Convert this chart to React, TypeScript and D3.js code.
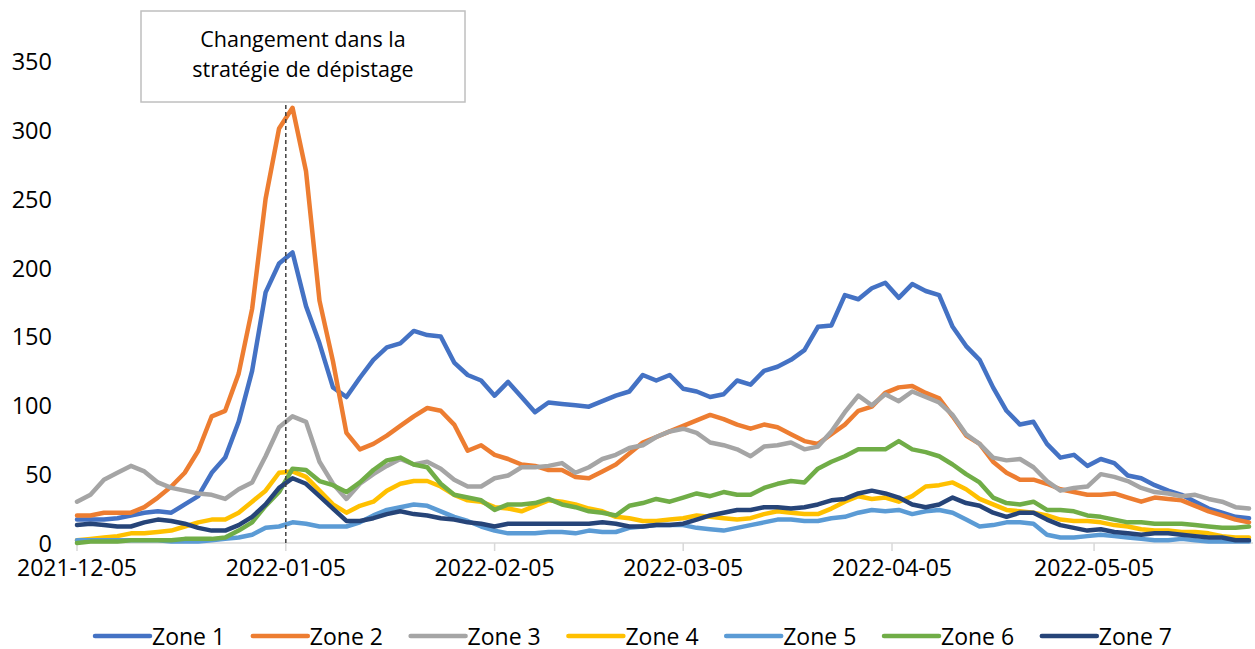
import React from "react";
import * as d3 from "d3";

const START = "2021-12-05";
const STEP_DAYS = 2;
const END = "2022-05-28";

const zone1 = [17,17,17,18,20,22,23,22,28,34,
51,62,88,125,182,203,211,172,145,113,
106,120,133,142,145,154,151,150,131,122,
118,107,117,106,95,102,101,100,99,103,
107,110,122,118,122,112,110,106,108,118,
115,125,128,133,140,157,158,180,177,185,
189,178,188,183,180,157,143,133,113,96,
86,88,72,62,64,56,61,58,49,47,
42,38,35,30,25,22,19,18];
const zone2 = [20,20,22,22,22,26,33,41,51,67,
92,96,123,170,250,301,316,270,176,132,
80,68,72,78,85,92,98,96,86,67,
71,64,61,57,56,53,53,48,47,52,
57,65,73,77,81,85,89,93,90,86,
83,86,84,79,74,72,79,86,96,99,
109,113,114,109,105,92,78,72,59,51,
46,46,43,39,37,35,35,36,33,30,
33,32,31,27,23,20,17,15];
const zone3 = [30,35,46,51,56,52,44,40,38,36,
35,32,39,44,63,84,92,88,59,43,
32,43,50,56,61,57,59,54,46,41,
41,47,49,55,55,56,58,51,55,61,
64,69,71,77,81,83,80,73,71,68,
63,70,71,73,68,70,81,95,107,100,
108,103,110,106,102,93,79,72,62,60,
61,55,45,38,40,41,50,48,45,40,
37,36,34,35,32,30,26,25];
const zone4 = [2,3,4,5,7,7,8,9,12,15,
17,17,22,30,38,51,52,48,38,28,
22,27,30,38,43,45,45,41,35,31,
30,26,25,23,27,31,30,28,25,23,
19,18,16,16,17,18,20,19,18,17,
18,21,23,22,21,21,25,30,34,32,
33,30,34,41,42,44,39,32,28,24,
23,22,20,17,16,16,15,13,12,10,
9,9,8,8,7,5,4,4];
const zone5 = [2,2,2,2,2,2,2,1,1,1,
2,3,4,6,11,12,15,14,12,12,
12,15,20,24,26,28,27,23,19,16,
12,9,7,7,7,8,8,7,9,8,
8,11,12,13,13,13,11,10,9,11,
13,15,17,17,16,16,18,19,22,24,
23,24,21,23,24,22,17,12,13,15,
15,14,6,4,4,5,6,5,4,3,
2,2,3,2,1,1,1,1];
const zone6 = [0,1,1,1,2,2,2,2,3,3,
3,4,9,15,27,37,54,53,45,42,
37,44,53,60,62,57,55,43,35,33,
31,24,28,28,29,32,28,26,23,22,
20,27,29,32,30,33,36,34,37,35,
35,40,43,45,44,54,59,63,68,68,
68,74,68,66,63,57,50,44,33,29,
28,30,24,24,23,20,19,17,15,15,
14,14,14,13,12,11,11,12];
const zone7 = [13,14,13,12,12,15,17,16,14,11,
9,9,13,19,28,40,47,43,34,25,
16,16,18,21,23,21,20,18,17,15,
14,12,14,14,14,14,14,14,14,15,
14,12,12,13,13,14,17,20,22,24,
24,26,26,25,26,28,31,32,36,38,
36,33,28,26,28,33,29,27,22,19,
22,22,17,13,11,9,10,8,7,6,
7,7,6,5,4,4,2,2];

const seriesNames = ["Zone 1","Zone 2","Zone 3","Zone 4","Zone 5","Zone 6","Zone 7"];
const seriesValues = [zone1, zone2, zone3, zone4, zone5, zone6, zone7];
const seriesColors = ["#4472C4","#ED7D31","#A5A5A5","#FFC000","#5B9BD5","#70AD47","#264478"];

const xTickLabels = ["2021-12-05","2022-01-05","2022-02-05","2022-03-05","2022-04-05","2022-05-05"];
const yTicks = [0,50,100,150,200,250,300,350];
const annotationDate = "2022-01-05";
const annotationLines = ["Changement dans la", "stratégie de dépistage"];

const W = 1255, H = 649;
const FONT = "'Open Sans', 'Noto Sans', sans-serif";

export default function App() {
  const parse = d3.utcParse("%Y-%m-%d");
  const start = parse(START)!;
  const end = parse(END)!;
  const x = d3.scaleUtc().domain([start, end]).range([77, 1249]);
  const y = d3.scaleLinear().domain([0, 350]).range([543, 61]);
  const dates = zone1.map((_, i) => d3.utcDay.offset(start, i * STEP_DAYS));
  const line = d3.line<number>()
    .x((_, i) => x(dates[i]))
    .y((v) => y(v))
    .curve(d3.curveLinear);
  const fmt = d3.utcFormat("%Y-%m-%d");
  const ax = x(parse(annotationDate)!);
  const legendX0 = 95;
  const legendStep = 157.8;

  return (
    <svg width={W} height={H} style={{ position: "absolute", left: 0, top: 0, background: "#fff" }} fontFamily={FONT}>
      {yTicks.map((t) => (
        <text key={t} x={52} y={y(t)} textAnchor="end" dominantBaseline="central" fontSize={23.5} fill="#000">
          {t}
        </text>
      ))}
      <line x1={77} x2={1253} y1={543} y2={543} stroke="#D9D9D9" strokeWidth={1.5} />
      {xTickLabels.map((s) => {
        const d = parse(s)!;
        const xx = x(d);
        return (
          <g key={s}>
            <line x1={xx} x2={xx} y1={543} y2={551} stroke="#D9D9D9" strokeWidth={1.5} />
            <text x={xx} y={567} textAnchor="middle" dominantBaseline="central" fontSize={23} fill="#000">
              {fmt(d)}
            </text>
          </g>
        );
      })}
      {seriesValues.map((vals, k) => (
        <path key={k} d={line(vals) || ""} fill="none" stroke={seriesColors[k]} strokeWidth={4.5} strokeLinejoin="round" strokeLinecap="round" />
      ))}
      <line x1={ax} x2={ax} y1={105} y2={543} stroke="#404040" strokeWidth={1.5} strokeDasharray="4,3" />
      <rect x={141} y={11} width={324} height={91} fill="#fff" stroke="#BFBFBF" strokeWidth={1.5} />
      {annotationLines.map((l, i) => (
        <text key={i} x={303} y={38 + i * 30} textAnchor="middle" dominantBaseline="central" fontSize={21.5} fill="#000">
          {l}
        </text>
      ))}
      {seriesNames.map((n, k) => {
        const lx = legendX0 + k * legendStep;
        return (
          <g key={n}>
            <line x1={lx} x2={lx + 55} y1={636} y2={636} stroke={seriesColors[k]} strokeWidth={4.5} strokeLinecap="round" />
            <text x={lx + 57} y={636} dominantBaseline="central" fontSize={23} fill="#000">{n}</text>
          </g>
        );
      })}
    </svg>
  );
}
